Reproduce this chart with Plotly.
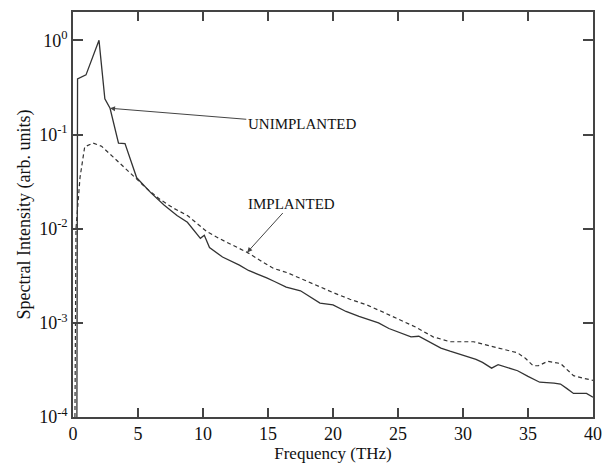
import math
import plotly.graph_objects as go

unimp_x = [0.3, 0.35, 1.0, 2.0, 2.45, 2.85, 3.5, 4.0, 4.9, 6.0, 7.0, 8.0, 8.8, 9.5, 9.8, 10.1,
           10.5, 11.5, 12.8, 13.5, 14.2, 14.9, 15.5, 16.4, 17.5, 18.2, 19.0, 20.0, 21.0, 22.0,
           22.6, 23.5, 24.3, 25.2, 26.0, 26.6, 27.5, 28.3, 29.0, 30.0, 31.0, 31.5, 32.2, 32.7,
           34.2, 35.0, 35.9, 37.0, 37.5, 38.0, 38.5, 39.5, 40.0]
unimp_y = [1e-4, 0.39, 0.43, 1.0, 0.24, 0.19, 0.081, 0.080, 0.0347, 0.0240, 0.0178, 0.0138,
           0.0117, 0.0089, 0.0079, 0.0085, 0.0063, 0.0050, 0.0041, 0.0036, 0.0033, 0.0030,
           0.00275, 0.0024, 0.00219, 0.0019, 0.00162, 0.00155, 0.00132, 0.00117, 0.0011,
           0.0010, 0.00087, 0.00078, 0.00071, 0.00072, 0.00062, 0.00054, 0.0005, 0.00045,
           0.00041, 0.00038, 0.00033, 0.00036, 0.00031, 0.00027, 0.000234, 0.000229,
           0.000224, 0.0002, 0.000178, 0.000178, 0.000162]

imp_x = [0.15, 0.23, 0.54, 0.9, 1.55, 2.2, 3.1, 4.0, 4.9, 5.8, 6.7, 7.7, 8.8, 10.3, 11.3,
         12.3, 13.4, 14.4, 15.4, 16.5, 17.5, 18.8, 20.0, 21.3, 22.6, 23.9, 25.2, 26.3, 27.7,
         29.0, 30.8, 31.8, 32.8, 34.2, 34.8, 35.4, 35.8, 36.5, 37.5, 38.5, 39.3, 40.0]
imp_y = [1e-4, 0.01, 0.035, 0.074, 0.081, 0.075, 0.0575, 0.0437, 0.033, 0.0257, 0.0204,
         0.0166, 0.0138, 0.0093, 0.0078, 0.0066, 0.0056, 0.0046, 0.0038, 0.0034, 0.00295,
         0.00245, 0.0021, 0.00178, 0.00155, 0.00129, 0.00107, 0.00091, 0.00071, 0.00063,
         0.00063, 0.00058, 0.00054, 0.00048, 0.00042, 0.00035, 0.00035, 0.00039, 0.00037,
         0.000275, 0.000257, 0.000245]

y_ticks = [1e-4, 1e-3, 1e-2, 1e-1, 1]
y_ticktext = ["10<sup>-4</sup>", "10<sup>-3</sup>", "10<sup>-2</sup>", "10<sup>-1</sup>", "10<sup>0</sup>"]

FONT = "Liberation Serif"
AX = "#444444"
X_RANGE = [0, 40]
Y_RANGE = [-4, math.log10(2)]

fig = go.Figure()
fig.add_trace(go.Scatter(x=unimp_x, y=unimp_y, mode="lines", name="UNIMPLANTED",
                         line=dict(color="#333333", width=1.3), showlegend=False))
fig.add_trace(go.Scatter(x=imp_x, y=imp_y, mode="lines", name="IMPLANTED",
                         line=dict(color="#333333", width=1.2, dash="4px,3px"), showlegend=False))
# invisible copy to activate the overlay axes (frame ticks)
fig.add_trace(go.Scatter(x=imp_x, y=imp_y, mode="lines", xaxis="x2", yaxis="y2",
                         opacity=0, hoverinfo="skip", showlegend=False,
                         line=dict(width=0.1, color="rgba(0,0,0,0)")))

fig.add_annotation(x=2.85, y=math.log10(0.19), ax=17.6, ay=math.log10(0.13),
                   xref="x", yref="y", axref="x", ayref="y",
                   text="UNIMPLANTED", showarrow=True, arrowhead=2, arrowsize=1,
                   arrowwidth=1, arrowcolor="#444444",
                   font=dict(family=FONT, size=15, color="#111111"))
fig.add_annotation(x=13.4, y=math.log10(0.0056), ax=16.8, ay=math.log10(0.0185),
                   xref="x", yref="y", axref="x", ayref="y",
                   text="IMPLANTED", showarrow=True, arrowhead=2, arrowsize=1,
                   arrowwidth=1, arrowcolor="#444444",
                   font=dict(family=FONT, size=15, color="#111111"))

x_common = dict(range=X_RANGE, tickmode="linear", tick0=0, dtick=5,
                ticks="inside", ticklen=9, tickwidth=1.5, tickcolor=AX,
                linecolor=AX, linewidth=1.5, mirror="allticks",
                showgrid=False, zeroline=False, showline=True)
y_common = dict(type="log", range=Y_RANGE, tickmode="array", tickvals=y_ticks,
                ticks="inside", ticklen=10, tickwidth=1.5, tickcolor=AX,
                linecolor=AX, linewidth=1.5, mirror="allticks",
                showgrid=False, zeroline=False, showline=True)

fig.update_layout(
    width=616, height=466,
    margin=dict(l=73, r=23, t=10, b=44),
    paper_bgcolor="white", plot_bgcolor="white",
    font=dict(family=FONT, size=18, color="#111111"),
    xaxis=dict(**x_common,
               title=dict(text="Frequency (THz)", standoff=0, font=dict(size=17)),
               tickfont=dict(size=18)),
    xaxis2=dict(**x_common, overlaying="x", side="top", showticklabels=False),
    yaxis=dict(**y_common, ticktext=y_ticktext,
               title=dict(text="Spectral Intensity (arb. units)", standoff=4, font=dict(size=18)),
               tickfont=dict(size=18)),
    yaxis2=dict(**y_common, overlaying="y", side="right", showticklabels=False),
)

fig.write_html("out.html", config={"displayModeBar": False},
               post_script="document.body.style.margin='0';")
